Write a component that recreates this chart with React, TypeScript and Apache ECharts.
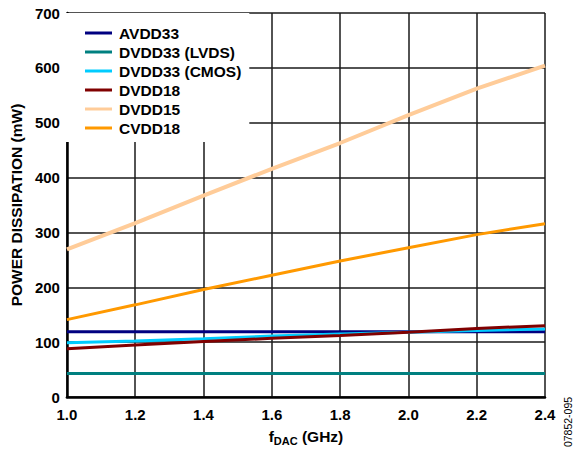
import React, { useEffect, useRef } from "react";
import * as echarts from "echarts";

const freqs = [1.0, 1.2, 1.4, 1.6, 1.8, 2.0, 2.2, 2.4];
const avdd33 = [119, 119, 119, 119, 119, 119, 119, 119];
const dvdd33Lvds = [43, 43, 43, 43, 43, 43, 43, 43];
const dvdd33Cmos = [99, 102, 106, 111, 115, 118, 121, 124];
const dvdd18 = [88, 95, 101, 107, 112, 118, 125, 130];
const dvdd15 = [269, 317, 367, 416, 463, 514, 562, 604];
const cvdd18 = [141, 168, 196, 222, 248, 272, 296, 316];

const seriesNames = ["AVDD33", "DVDD33 (LVDS)", "DVDD33 (CMOS)", "DVDD18", "DVDD15", "CVDD18"];
const seriesValues = [avdd33, dvdd33Lvds, dvdd33Cmos, dvdd18, dvdd15, cvdd18];
const seriesColors = ["#000080", "#008080", "#00ccff", "#800000", "#ffcc99", "#ff9900"];
const seriesWidths = [3, 3, 3, 3, 4, 3];

const FONT = "'Liberation Sans', Arial, sans-serif";

export default function App() {
  const ref = useRef<HTMLDivElement>(null);
  useEffect(() => {
    document.body.style.margin = "0";
    const chart = echarts.init(ref.current!, null, { renderer: "svg" });
    chart.setOption({
      animation: false,
      backgroundColor: "#fff",
      textStyle: { fontFamily: FONT },
      grid: { left: 65, right: 29, top: 13, bottom: 54, containLabel: false },
      legend: {
        orient: "vertical",
        left: 65,
        top: 13,
        backgroundColor: "#fff",
        padding: [12, 8, 6, 20],
        itemGap: 3,
        itemWidth: 27,
        itemHeight: 3,
        icon: "rect",
        data: seriesNames,
        textStyle: {
          fontFamily: FONT,
          fontWeight: "bold",
          fontSize: 15.5,
          lineHeight: 15,
          color: "#000",
          padding: [0, 0, 0, 2],
        },
      },
      xAxis: {
        type: "value",
        min: 1.0,
        max: 2.4,
        interval: 0.2,
        name: "{f|f}{sub|DAC}{n| (GHz)}",
        nameLocation: "middle",
        nameGap: 30,
        nameTextStyle: {
          rich: {
            f: { fontFamily: FONT, fontWeight: "bold", fontSize: 15.5, color: "#000" },
            sub: { fontFamily: FONT, fontWeight: "bold", fontSize: 11, color: "#000", padding: [8, 0, 0, 0] },
            n: { fontFamily: FONT, fontWeight: "bold", fontSize: 15.5, color: "#000" },
          },
        },
        axisLine: { show: true, lineStyle: { color: "#000", width: 2.5 } },
        axisTick: { show: false },
        splitLine: { show: true, lineStyle: { color: "#1a1a1a", width: 1.5 } },
        axisLabel: {
          margin: 10,
          fontFamily: FONT,
          fontWeight: "bold",
          fontSize: 15,
          color: "#000",
          formatter: (v: number) => v.toFixed(1),
        },
      },
      yAxis: {
        type: "value",
        min: 0,
        max: 700,
        interval: 100,
        name: "POWER DISSIPATION (mW)",
        nameLocation: "middle",
        nameGap: 40,
        nameRotate: 90,
        nameTextStyle: { fontFamily: FONT, fontWeight: "bold", fontSize: 15.5, color: "#000" },
        axisLine: { show: true, lineStyle: { color: "#000", width: 2.5 } },
        axisTick: { show: false },
        splitLine: { show: true, lineStyle: { color: "#1a1a1a", width: 1.5 } },
        axisLabel: { margin: 7, fontFamily: FONT, fontWeight: "bold", fontSize: 15, color: "#000" },
      },
      graphic: [
        {
          type: "text",
          x: 568,
          y: 422,
          rotation: Math.PI / 2,
          style: {
            text: "07852-095",
            fontFamily: FONT,
            fontSize: 10.5,
            fill: "#000",
            align: "center",
            verticalAlign: "middle",
          },
        },
      ],
      series: seriesNames.map((name, i) => ({
        name,
        type: "line",
        data: freqs.map((f, j) => [f, seriesValues[i][j]]),
        showSymbol: false,
        symbol: "none",
        color: seriesColors[i],
        lineStyle: { color: seriesColors[i], width: seriesWidths[i] },
      })),
    });
    return () => chart.dispose();
  }, []);
  return <div ref={ref} style={{ width: 574, height: 451 }} />;
}
